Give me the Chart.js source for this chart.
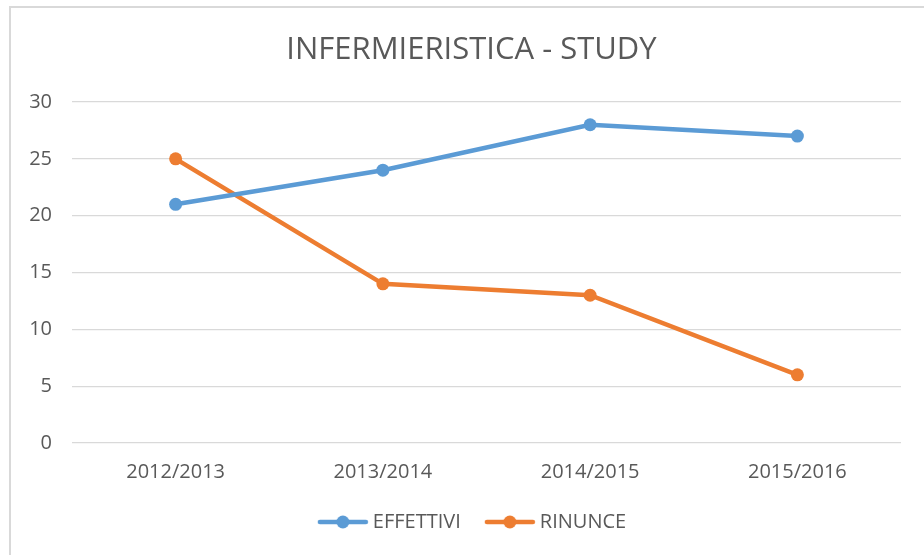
<!DOCTYPE html>
<html>
<head>
<meta charset="utf-8">
<script src="https://cdn.jsdelivr.net/npm/chart.js@4"></script>
<style>
  html, body { margin: 0; padding: 0; background: #fff; overflow: hidden; }
  #wrap { position: relative; width: 924px; height: 555px; overflow: hidden; }
  #frame { position: absolute; left: 9px; top: 6px; width: 940px; height: 580px; border: 2px solid #d9d9d9; box-sizing: border-box; }
  canvas { position: absolute; left: 0; top: 0; }
</style>
</head>
<body>
<div id="wrap">
  <div id="frame"></div>
  <canvas id="chart" width="924" height="565"></canvas>
</div>
<script>
// anni accademici e serie
const years = ['2012/2013', '2013/2014', '2014/2015', '2015/2016'];
const effettivi = [21, 24, 28, 27];
const rinunce = [25, 14, 13, 6];
const yTicks = [0, 5, 10, 15, 20, 25, 30];

const BLUE = '#5b9bd5';
const ORANGE = '#ed7d31';
const GREY = '#595959';
const FONT = "'Open Sans', sans-serif";

// legend icon: line with a dot in the middle
function legendIcon(color) {
    const c = document.createElement('canvas');
    c.width = 52; c.height = 16;
    const ctx = c.getContext('2d');
    ctx.strokeStyle = color;
    ctx.lineWidth = 4.5;
    ctx.lineCap = 'round';
    ctx.beginPath(); ctx.moveTo(3, 8); ctx.lineTo(49, 8); ctx.stroke();
    ctx.fillStyle = color;
    ctx.beginPath(); ctx.arc(26, 8, 6.5, 0, Math.PI * 2); ctx.fill();
    return c;
}

// the frame is wider than the window, so title and legend sit right of the canvas centre
const shiftBlocks = {
    id: 'shiftBlocks',
    afterLayout(chart) {
        const t = chart.titleBlock, l = chart.legend;
        if (t) { t.left += 21; t.right += 21; }
        if (l) { l.left += 24; l.right += 24; l.top -= 18; l.bottom -= 18; }
    }
};

const series = [
    { label: 'EFFETTIVI', data: effettivi, color: BLUE },
    { label: 'RINUNCE', data: rinunce, color: ORANGE }
];

new Chart(document.getElementById('chart'), {
    type: 'line',
    data: {
        labels: years,
        datasets: series.map(s => ({
            label: s.label,
            data: s.data,
            borderColor: s.color,
            backgroundColor: s.color,
            borderWidth: 4.5,
            pointRadius: 6.5,
            pointBorderWidth: 0,
            pointBackgroundColor: s.color,
            tension: 0,
            fill: false
        }))
    },
    plugins: [shiftBlocks],
    options: {
        responsive: false,
        animation: false,
        layout: { padding: { left: 0, right: 23, top: 0, bottom: 5 } },
        plugins: {
            title: {
                display: true,
                text: 'INFERMIERISTICA - STUDY',
                color: GREY,
                font: { family: FONT, size: 31, weight: 'normal' },
                padding: { top: 31.4, bottom: 33.4 }
            },
            legend: {
                position: 'bottom',
                labels: {
                    color: GREY,
                    font: { family: FONT, size: 20 },
                    boxWidth: 40,
                    pointStyleWidth: 40,
                    padding: 29,
                    usePointStyle: true,
                    generateLabels: chart => chart.data.datasets.map((ds, i) => ({
                        text: ds.label,
                        fontColor: GREY,
                        pointStyle: legendIcon(ds.borderColor),
                        datasetIndex: i,
                        hidden: false,
                        lineWidth: 0
                    }))
                }
            },
            tooltip: { enabled: false }
        },
        scales: {
            x: {
                offset: true,
                grid: { display: false, drawTicks: false },
                border: { display: false },
                ticks: { color: GREY, font: { family: FONT, size: 20 }, padding: 17 }
            },
            y: {
                min: 0,
                max: 30,
                afterFit: s => { s.width = 72; },
                afterBuildTicks: s => { s.ticks = yTicks.map(v => ({ value: v })); },
                grid: { color: '#d9d9d9', lineWidth: 1.3, drawTicks: false },
                border: { display: false },
                ticks: { color: GREY, font: { family: FONT, size: 20 }, padding: 20 }
            }
        }
    }
});
</script>
</body>
</html>
